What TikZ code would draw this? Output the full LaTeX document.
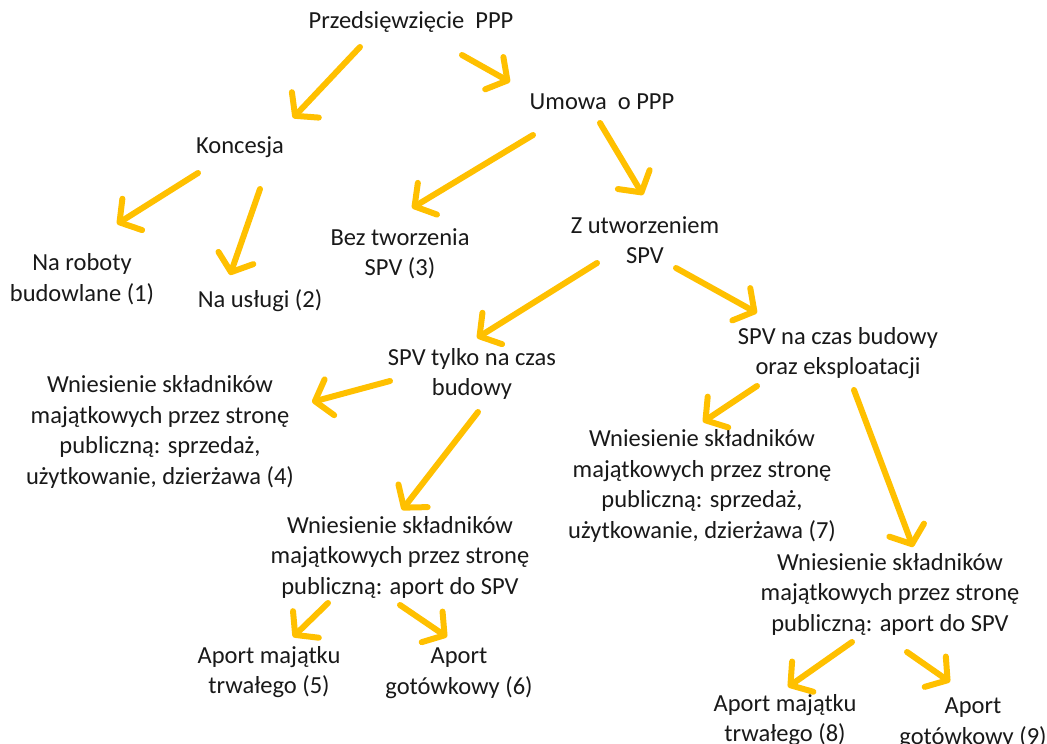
\documentclass[tikz,border=0pt]{standalone}
\usepackage{fontspec}
\setmainfont{Carlito}
\usetikzlibrary{arrows.meta}
\definecolor{gold}{HTML}{FFC000}
\tikzset{
  lbl/.style={align=center, inner sep=0pt, font=\fontsize{24.5}{30.5}\selectfont, text=black!90},
  arr/.style={draw=gold, line width=6pt, line cap=round, -{Straight Barb[length=15pt,width=37pt,round]}}
}
\begin{document}
\begin{tikzpicture}[x=1pt,y=-1pt]
\useasboundingbox (0,0) rectangle (1047,744);
% nodes
\node[lbl] (ppp) at (411,22) {Przedsięwzięcie~~PPP};
\node[lbl] (umowa) at (602,102) {Umowa~~o PPP};
\node[lbl] (konc) at (240,147) {Koncesja};
\node[lbl] (rob) at (82,279) {Na roboty\\budowlane (1)};
\node[lbl] (usl) at (260,301) {Na usługi (2)};
\node[lbl] (bez) at (400,254) {Bez tworzenia\\SPV (3)};
\node[lbl] (zutw) at (645,240) {Z utworzeniem\\SPV};
\node[lbl] (tylko) at (472,374) {SPV tylko na czas\\budowy};
\node[lbl] (eksp) at (838,353) {SPV na czas budowy\\oraz eksploatacji};
\node[lbl] (w4) at (160,432) {Wniesienie składników\\majątkowych przez stronę\\publiczną: sprzedaż,\\użytkowanie, dzierżawa (4)};
\node[lbl] (apL) at (400,557) {Wniesienie składników\\majątkowych przez stronę\\publiczną: aport do SPV};
\node[lbl] (w7) at (702,486) {Wniesienie składników\\majątkowych przez stronę\\publiczną: sprzedaż,\\użytkowanie, dzierżawa (7)};
\node[lbl] (apR) at (890,594) {Wniesienie składników\\majątkowych przez stronę\\publiczną: aport do SPV};
\node[lbl] (a5) at (269,672) {Aport majątku\\trwałego (5)};
\node[lbl] (a6) at (459,673) {Aport\\gotówkowy (6)};
\node[lbl] (a8) at (785,720) {Aport majątku\\trwałego (8)};
\node[lbl] (a9) at (973,723) {Aport\\gotówkowy (9)};
% arrow end points
\coordinate (s1) at (360,47);  \coordinate (e1) at (293,118);
\coordinate (s2) at (462,55);  \coordinate (e2) at (510,82);
\coordinate (s3) at (198,173); \coordinate (e3) at (117,224);
\coordinate (s4) at (260,189); \coordinate (e4) at (230,275);
\coordinate (s5) at (533,135); \coordinate (e5) at (412,208);
\coordinate (s6) at (600,123); \coordinate (e6) at (643,195);
\coordinate (s7) at (597,263); \coordinate (e7) at (477,338);
\coordinate (s8) at (676,268); \coordinate (e8) at (757,313);
\coordinate (s9) at (390,381); \coordinate (e9) at (312,402);
\coordinate (s10) at (478,412); \coordinate (e10) at (402,510);
\coordinate (s11) at (757,386); \coordinate (e11) at (703,422);
\coordinate (s12) at (854,390); \coordinate (e12) at (913,547);
\coordinate (s13) at (328,603); \coordinate (e13) at (293,637);
\coordinate (s14) at (400,605); \coordinate (e14) at (447,637);
\coordinate (s15) at (852,642); \coordinate (e15) at (788,687);
\coordinate (s16) at (907,652); \coordinate (e16) at (950,682);
\foreach \i in {1,...,16} \draw[arr] (s\i) -- (e\i);
\end{tikzpicture}
\end{document}
